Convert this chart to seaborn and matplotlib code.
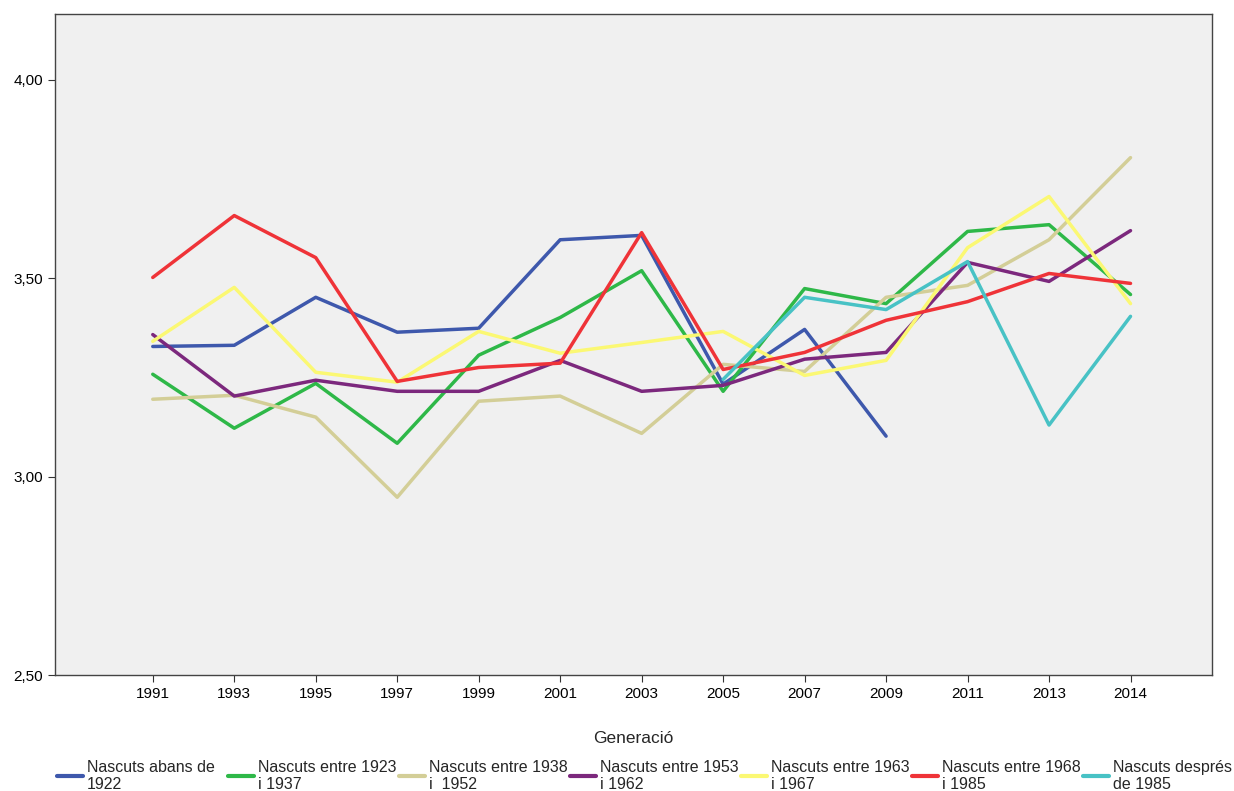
import pandas as pd
import numpy as np
import matplotlib
matplotlib.use("Agg")
import matplotlib.pyplot as plt
from matplotlib.lines import Line2D
from matplotlib.ticker import FuncFormatter
import seaborn as sns

sns.set_style("white")
plt.rcParams["font.family"] = ["Liberation Sans", "DejaVu Sans"]

# data
anys = ["1991", "1993", "1995", "1997", "1999", "2001", "2003",
        "2005", "2007", "2009", "2011", "2013", "2014"]

abans_1922 = [3.328, 3.331, 3.452, 3.364, 3.374, 3.597, 3.608,
              3.233, 3.371, 3.102, np.nan, np.nan, np.nan]
entre_1923_1937 = [3.258, 3.122, 3.235, 3.084, 3.306, 3.401, 3.519,
                   3.215, 3.474, 3.436, 3.618, 3.635, 3.459]
entre_1938_1952 = [3.195, 3.205, 3.150, 2.948, 3.190, 3.203, 3.109,
                   3.283, 3.265, 3.452, 3.482, 3.597, 3.804]
entre_1953_1962 = [3.358, 3.203, 3.243, 3.215, 3.215, 3.293, 3.215,
                   3.230, 3.296, 3.313, 3.540, 3.492, 3.620]
entre_1963_1967 = [3.341, 3.477, 3.263, 3.238, 3.366, 3.311, 3.338,
                   3.366, 3.255, 3.293, 3.577, 3.706, 3.436]
entre_1968_1985 = [3.502, 3.658, 3.552, 3.240, 3.275, 3.286, 3.615,
                   3.270, 3.313, 3.394, 3.441, 3.512, 3.487]
despres_1985 = [np.nan, np.nan, np.nan, np.nan, np.nan, np.nan, np.nan,
                3.245, 3.452, 3.421, 3.542, 3.130, 3.404]

grups = ["Nascuts abans de\n1922", "Nascuts entre 1923\ni 1937",
         "Nascuts entre 1938\ni  1952", "Nascuts entre 1953\ni 1962",
         "Nascuts entre 1963\ni 1967", "Nascuts entre 1968\ni 1985",
         "Nascuts després\nde 1985"]
series = [abans_1922, entre_1923_1937, entre_1938_1952, entre_1953_1962,
          entre_1963_1967, entre_1968_1985, despres_1985]
colors = ["#3E58AC", "#2EB848", "#D3CE97", "#7C287D",
          "#FBF873", "#EF3338", "#48C2C5"]

rows = []
for g, vals in zip(grups, series):
    for i, v in enumerate(vals):
        rows.append({"pos": i, "any": anys[i], "grup": g, "valor": v})
df = pd.DataFrame(rows).dropna()

fig = plt.figure(figsize=(12.34, 7.91), dpi=100)
ax = fig.add_axes([55 / 1234, 1 - 675 / 791, (1212 - 55) / 1234, (675 - 14) / 791])
ax.set_facecolor("#F0F0F0")

sns.lineplot(data=df, x="pos", y="valor", hue="grup", hue_order=grups,
             palette=colors, linewidth=2.5, legend=False, ax=ax, sort=True)

ax.set_xlim(-1.2, 13.0)
ax.set_ylim(2.5, 4.166)
ax.set_xticks(range(len(anys)))
ax.set_xticklabels(anys)
ax.set_yticks([2.5, 3.0, 3.5, 4.0])
ax.yaxis.set_major_formatter(FuncFormatter(lambda v, p: f"{v:.2f}".replace(".", ",")))
ax.tick_params(axis="both", direction="out", length=5, width=0.8,
               colors="#333333", labelsize=11, labelcolor="black",
               bottom=True, left=True)
for s in ax.spines.values():
    s.set_color("#444444")
    s.set_linewidth(1.0)

ax.set_ylabel("")
ax.set_xlabel("Generació", fontsize=12.5, labelpad=22)

# legend entries laid out in fixed slots like the original
for i, (g, c) in enumerate(zip(grups, colors)):
    h = Line2D([], [], color=c, linewidth=3)
    fig.legend(handles=[h], labels=[g], loc="center left",
               bbox_to_anchor=((57 + i * 171) / 1234, 1 - 776 / 791),
               frameon=False, fontsize=11.5, handlelength=1.6,
               handletextpad=0.25, borderpad=0, borderaxespad=0,
               labelspacing=0)

fig.savefig("out.png", dpi=100)
